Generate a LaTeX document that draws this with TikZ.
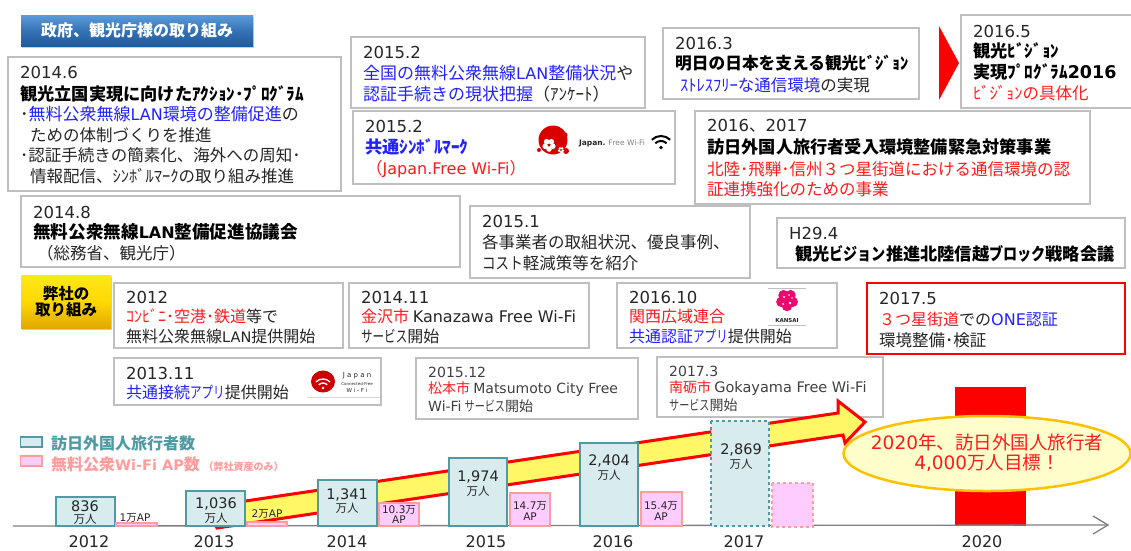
\documentclass[tikz,border=0pt]{standalone}
\usepackage{fontspec}
\setmainfont{Noto Sans CJK JP}
\newfontfamily\lat{DejaVu Sans}
\usetikzlibrary{shapes.geometric,shadows}
\definecolor{boxln}{HTML}{BFBFBF}
\definecolor{txt}{HTML}{262626}
\definecolor{txtb}{HTML}{404040}
\definecolor{blu}{HTML}{2222FF}
\definecolor{redt}{HTML}{FF1A1A}
\definecolor{teal}{HTML}{4F9AA3}
\definecolor{tealf}{HTML}{D8EBED}
\definecolor{pinkl}{HTML}{FF9C9C}
\definecolor{pinkf}{HTML}{FFCCFF}
\definecolor{btop}{HTML}{5C9BDA}
\definecolor{bmid}{HTML}{3472B5}
\definecolor{bbot}{HTML}{1E5A9E}
\definecolor{ytop}{HTML}{FFE81A}
\definecolor{ymid}{HTML}{FFD800}
\definecolor{ybot}{HTML}{E0A800}
\definecolor{goall}{HTML}{FFC000}
\definecolor{goalf}{HTML}{FFFFCC}
\newcommand{\fs}[1]{\fontsize{#1}{#1}\selectfont}
\newcommand{\La}[1]{{\lat #1}}
\newcommand{\Ln}[1]{{\fs{16}\lat #1}}
\newcommand{\Lm}[1]{{\fs{14.5}\lat #1}}
\newcommand{\Lb}[1]{{\fs{16}\lat #1}}
\newcommand{\B}[1]{\textcolor{blu}{#1}}
\newcommand{\R}[1]{\textcolor{redt}{#1}}
\newcommand{\nk}[1]{\scalebox{.72}[1]{#1}}
\newcommand{\nl}[1]{\scalebox{.82}[1]{#1}}
\tikzset{
 x=1pt,y=-1pt,
 tbox/.style={draw=boxln,line width=1.2pt,fill=white},
 tx/.style={anchor=west,inner sep=0pt,text=txt,font=\fs{16.5}},
 tl/.style={anchor=west,inner sep=0pt,text=txt,font=\fs{16}},
 tw/.style={anchor=west,inner sep=0pt,text=txt,font=\fs{17}},
 tm/.style={anchor=west,inner sep=0pt,text=txtb,font=\fs{14}},
 yr/.style={anchor=west,inner sep=0pt,text=txt,font=\fs{16.5}\lat},
 ym/.style={anchor=west,inner sep=0pt,text=txtb,font=\fs{14}\lat},
 bd/.style={anchor=west,inner sep=0pt,text=black,font=\fs{17.2}\bfseries},
 visbar/.style={draw=teal,line width=1.2pt,fill=tealf},
 apbar/.style={draw=pinkl,line width=1.2pt,fill=pinkf},
 num/.style={inner sep=0pt,text=txt,font=\fs{14.5}\lat},
 unit/.style={inner sep=0pt,text=txt,font=\fs{11.5}},
 aplab/.style={inner sep=0pt,text=txt,font=\fs{10.5},align=center},
 axyear/.style={inner sep=0pt,text=txt,font=\fs{16}\lat},
}
\begin{document}
\begin{tikzpicture}
\useasboundingbox (0,0) rectangle (1131,550);
\fill[white] (0,0) rectangle (1131,550);

% header buttons
\node[name=gov,minimum width=232pt,minimum height=31pt,inner sep=0pt,anchor=north west,
  top color=btop,bottom color=bbot,middle color=bmid,
  drop shadow={shadow xshift=1pt,shadow yshift=-2pt,opacity=.4},text=white,font=\fs{16}\bfseries] at (21,15) {政府、観光庁様の取り組み};
\node[name=us,minimum width=90pt,minimum height=53pt,inner sep=0pt,anchor=north west,align=center,
  top color=ytop,bottom color=ybot,middle color=ymid,
  drop shadow={shadow xshift=1pt,shadow yshift=-2pt,opacity=.4},text=black,font=\fs{15.5}\bfseries] at (21,275) {弊社の\\[1pt]取り組み};

% upper boxes
\draw[tbox] (8,57) rectangle (341,191);
\node[yr] at (20,72) {2014.6};
\node[bd] at (20,94) {観光立国実現に向けたｱｸｼｮﾝ･ﾌﾟﾛｸﾞﾗﾑ};
\node[tw] at (20,114) {･\B{無料公衆無線\Ln{LAN}環境の整備促進}の};
\node[tx] at (30,135) {ための体制づくりを推進};
\node[tx] at (20,155) {･認証手続きの簡素化、海外への周知･};
\node[tx] at (30,176) {情報配信、ｼﾝﾎﾞﾙﾏｰｸの取り組み推進};

\draw[tbox] (351,37) rectangle (645,108);
\node[yr] at (363,52) {2015.2};
\node[tw] at (363,73) {\B{全国の無料公衆無線\Ln{LAN}整備状況}や};
\node[tw] at (363,94) {\B{認証手続きの現状把握}（ｱﾝｹｰﾄ）};

\draw[tbox] (353,111) rectangle (675,184);
\node[yr] at (365,126) {2015.2};
\node[bd,text=blu] at (365,147) {共通ｼﾝﾎﾞﾙﾏｰｸ};
\node[tx,text=redt] at (366,169) {（\Lb{Japan.Free Wi-Fi}）};
% Japan.Free Wi-Fi logo
\fill[red!85!black] (553,140) circle (14.5);
\fill[red!85!black] (539,150) circle (2) (565,135) circle (2.5) (566,151) circle (3);
\foreach \a in {90,162,234,306,18}{\fill[white] (549,145)+(\a:4) circle (2.8);}
\foreach \a in {90,162,234,306,18}{\fill[white] (561,150)+(\a:2) circle (1.4);}
\node[inner sep=0pt,font=\fs{7.5}\lat,text=txt] (jfw) at (612,143) {\textbf{Japan.} \textcolor{gray}{Free Wi-Fi}};
\draw[black,line width=2pt] (651.8,139.8) arc[start angle=-135,end angle=-45,radius=13];
\draw[black,line width=2pt] (655.3,143.3) arc[start angle=-135,end angle=-45,radius=8];
\fill[black] (661,147.5) circle (1.9);

\draw[tbox] (663,28) rectangle (919,99);
\node[yr] at (675,43) {2016.3};
\node[bd,font=\fs{16.7}\bfseries] at (675,63) {明日の日本を支える観光ﾋﾞｼﾞｮﾝ};
\node[tx] at (680,85) {\B{ｽﾄﾚｽﾌﾘｰな通信環境}の実現};

\fill[red] (939,26) -- (959,63) -- (939,100) -- cycle;

\draw[tbox] (961,15) rectangle (1132,108);
\node[yr] at (973,31) {2016.5};
\node[bd] at (973,51) {観光ﾋﾞｼﾞｮﾝ};
\node[bd] at (973,72) {実現ﾌﾟﾛｸﾞﾗﾑ{\fs{17.5}\lat 2016}};
\node[tx,text=redt] at (973,93) {ﾋﾞｼﾞｮﾝの具体化};

\draw[tbox] (695,111) rectangle (1090,204);
\node[tx] at (707,126) {\La{2016}、\La{2017}};
\node[bd] at (707,147) {訪日外国人旅行者受入環境整備緊急対策事業};
\node[tx,text=redt] at (707,169) {北陸･飛騨･信州３つ星街道における通信環境の認};
\node[tx,text=redt] at (707,189) {証連携強化のための事業};

\draw[tbox] (21,196) rectangle (460,267);
\node[yr] at (33,212) {2014.8};
\node[bd,font=\fs{17.6}\bfseries] at (33,232) {無料公衆無線\Ln{LAN}整備促進協議会};
\node[tx] at (37,253) {（総務省、観光庁）};

\draw[tbox] (470,206) rectangle (750,278);
\node[yr] at (482,221) {2015.1};
\node[tx] at (482,242) {各事業者の取組状況、優良事例、};
\node[tx] at (482,263) {\nl{コスト}軽減策等を紹介};

\draw[tbox] (777,218) rectangle (1125,268);
\node[yr] at (789,233) {H29.4};
\node[bd] at (795,254) {観光\nl{ビジョン}推進北陸信越\nl{ブロック}戦略会議};

% lower boxes
\draw[tbox] (114,283) rectangle (343,348);
\node[yr] at (126,297) {2012};
\node[tl] at (126,316) {\R{ｺﾝﾋﾞﾆ･空港･鉄道}等で};
\node[tl] at (126,336) {無料公衆無線\Lm{LAN}提供開始};

\draw[tbox] (349,283) rectangle (589,348);
\node[yr] at (361,297) {2014.11};
\node[tl] at (361,316) {\R{金沢市} \Lb{Kanazawa Free Wi-Fi}};
\node[tl] at (361,336) {\nk{サービス}開始};

\draw[tbox] (617,283) rectangle (837,348);
\node[yr] at (629,297) {2016.10};
\node[tl] at (629,316) {\R{関西広域連合}};
\node[tl] at (629,336) {\B{共通認証\nk{アプリ}}提供開始};
% KANSAI logo
\draw[gray!50,line width=.4pt] (768,288) -- (806,288) (768,325) -- (806,325);
\foreach \a in {90,162,234,306,18}{\fill[magenta!70!red] (787,300)+(\a:6) circle (5.2);}
\fill[magenta!70!red] (787,300) circle (5);
\fill[white] (784,297) circle (1.2) (790,303) circle (1.3) (789,295) circle (.9) (783,304) circle (1) (792,298) circle (.8);
\node[inner sep=0pt,font=\fs{5.5}\lat\bfseries,text=txt] (kansai) at (787,320) {KANSAI};

\draw[tbox] (867,283) rectangle (1125,354);
\draw[red,line width=1.2pt] (867,283) rectangle (1125,354);
\node[yr] at (879,298) {2017.5};
\node[tl] at (879,319) {\R{３つ星街道}での\B{\Lb{ONE}認証}};
\node[tx] at (879,340) {環境整備･検証};

\draw[tbox] (114,358) rectangle (381,405);
\node[yr] at (126,373) {2013.11};
\node[tl] at (126,392) {\B{共通接続\nk{アプリ}}提供開始};
% Japan Connected-Free logo
\draw[boxln!60,line width=.5pt] (307,397) -- (380,397);
\fill[red!80!black] (323,381.5) ellipse [x radius=12,y radius=11];
\draw[white,line width=1.4pt] (315.9,381.9) arc[start angle=-135,end angle=-45,radius=10];
\draw[white,line width=1.4pt] (318.8,384.8) arc[start angle=-135,end angle=-45,radius=6];
\fill[white] (323,388) circle (1.4);
\node[inner sep=0pt,font=\fs{7}\lat,text=txt] (jp) at (357,376) {J a p a n};
\node[inner sep=0pt,font=\fs{4}\lat,text=txt] (cf) at (357,384) {Connected-Free};
\node[inner sep=0pt,font=\fs{5.5}\lat,text=txt] (wf) at (357,390) {W i - F i};

\draw[tbox] (416,358) rectangle (638,419);
\node[ym] at (428,372) {2015.12};
\node[tm] at (428,389) {\R{松本市} \La{Matsumoto City Free}};
\node[tm] at (428,406) {\La{Wi-Fi} \nk{サービス}開始};

\draw[tbox] (657,357) rectangle (883,417);
\node[ym] at (669,371) {2017.3};
\node[tm] at (669,388) {\R{南砺市} {\fs{14.5}\lat Gokayama Free Wi-Fi}};
\node[tm] at (669,405) {\nk{サービス}開始};

% red target bar
\fill[red] (955,387) rectangle (1026,526);

% big arrow
\draw[draw=red,line width=3pt,fill=yellow!60!white,miter limit=6]
 (205,507) -- (838,413) -- (838,401) -- (865,422) -- (845,443) -- (843,435) -- (217,528) -- cycle;

% axis
\coordinate (axs) at (13,526);
\coordinate (axe) at (1108,525);
\draw[gray,line width=1.3pt] (axs) -- (axe);
\draw[gray,line width=1.3pt] (1093,516) -- (axe) -- (1093,534);

% bars
\draw[visbar] (56,497) rectangle (115,526);
\node[num] (n1) at (85,506.5) {836}; \node[unit] (u1) at (85,519.5) {万人};
\draw[visbar] (186,491) rectangle (245,526);
\node[num] (n2) at (216,504) {1,036}; \node[unit] (u2) at (216,518) {万人};
\draw[visbar] (318,480) rectangle (377,526);
\node[num] (n3) at (347,495) {1,341}; \node[unit] (u3) at (347,508) {万人};
\draw[visbar] (449,458) rectangle (507,526);
\node[num] (n4) at (478,477) {1,974}; \node[unit] (u4) at (478,491) {万人};
\draw[visbar] (580,443) rectangle (638,526);
\node[num] (n5) at (609,461) {2,404}; \node[unit] (u5) at (609,475) {万人};
\draw[visbar,dashed] (711,421) rectangle (769,526);
\node[num] (n6) at (741,450) {2,869}; \node[unit] (u6) at (741,464) {万人};

\draw[apbar] (116,523) rectangle (157,526);
\node[aplab] (a1) at (135,518) {\La{1}万\La{AP}};
\draw[apbar] (247,522) rectangle (287,526);
\node[aplab] (a2) at (267,514) {\La{2}万\La{AP}};
\draw[apbar] (379,503) rectangle (419,526);
\node[aplab] (a3) at (399,514.5) {\La{10.3}万\\\La{AP}};
\draw[apbar] (510,493) rectangle (550,526);
\node[aplab] (a4) at (530,511) {\La{14.7}万\\\La{AP}};
\draw[apbar] (641,492) rectangle (682,526);
\node[aplab] (a5) at (661,511) {\La{15.4}万\\\La{AP}};
\draw[apbar,dashed] (772,483) rectangle (813,527);

% years
\node[axyear] (y1) at (89,542) {2012};
\node[axyear] (y2) at (214,542) {2013};
\node[axyear] (y3) at (347,542) {2014};
\node[axyear] (y4) at (486,542) {2015};
\node[axyear] (y5) at (613,542) {2016};
\node[axyear] (y6) at (744,542) {2017};
\node[axyear] (y7) at (982,542) {2020};

% target ellipse
\draw[draw=goall,line width=2.5pt,fill=goalf] (987,453.5) ellipse [x radius=143.5,y radius=37.5];
\node[name=goal,inner sep=0pt,align=center,text=redt,font=\fs{18.5}] at (987,453) {\La{2020}年、訪日外国人旅行者\\[1pt]\La{4,000}万人目標！};

% legend
\draw[teal,line width=1.2pt,fill=tealf] (20.5,437) rectangle (42,447);
\node[anchor=west,inner sep=0pt,text=teal,font=\fs{16}\bfseries] (lg1) at (51,443) {訪日外国人旅行者数};
\draw[pinkl,line width=1.2pt,fill=pinkf] (20.5,456) rectangle (42,466);
\node[anchor=west,inner sep=0pt,text=pinkl,font=\fs{16}\bfseries] (lg2) at (51,464) {無料公衆{\fs{14.5}\lat Wi-Fi AP}数 {\fs{10}（弊社資産のみ）}};
\end{tikzpicture}
\end{document}
